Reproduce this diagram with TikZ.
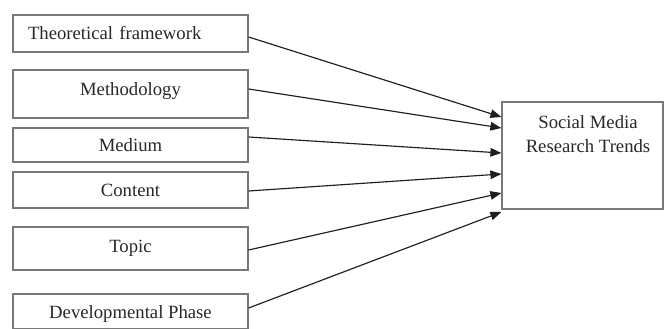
\documentclass[tikz,border=0pt]{standalone}
\usepackage{fontspec}
\setmainfont{Liberation Serif}
\usetikzlibrary{arrows.meta}
\definecolor{boxgray}{RGB}{120,120,120}
\definecolor{arrowcol}{RGB}{30,30,30}
\definecolor{textcol}{RGB}{40,40,40}
\begin{document}
\begin{tikzpicture}[x=1pt,y=-1pt,
  inbox/.style={draw=boxgray, line width=1.2pt, minimum width=235pt, inner sep=0pt,
    font=\fontsize{18.7}{22}\selectfont, text=textcol},
  outbox/.style={draw=boxgray, line width=1.2pt, minimum width=161pt, minimum height=107pt, inner sep=0pt},
  conn/.style={draw=arrowcol, line width=1.15pt, -{Triangle[length=11pt,width=8.5pt]}}]
\useasboundingbox (0,0) rectangle (664,329);
\fill[white] (0,0) rectangle (664,329);
\node[inbox, minimum height=37pt, text width=205pt, align=left, inner xsep=15pt] (t1) at (130.5,33.5) {Theoretical framework};
\node[inbox, minimum height=48pt, text depth=9pt] (t2) at (130.5,94) {Methodology};
\node[inbox, minimum height=34pt] (t3) at (130.5,145) {Medium};
\node[inbox, minimum height=36pt] (t4) at (130.5,190) {Content};
\node[inbox, minimum height=43pt] (t5) at (130.5,248.5) {Topic};
\node[inbox, minimum height=35pt, text height=17pt, text depth=4pt] (t6) at (130.5,311.5) {Developmental Phase};
\node[outbox] (srt) at (582.5,155.5) {};
\node[font=\fontsize{18.7}{24}\selectfont, text=textcol, align=center, inner sep=0pt] (srtt) at (588,134) {Social Media\\Research Trends};
\draw[conn] ([yshift=-3.5pt]t1.east) -- ([yshift=38.5pt]srt.west);
\draw[conn] ([yshift=5pt]t2.east) -- ([yshift=27.5pt]srt.west);
\draw[conn] ([yshift=8pt]t3.east) -- ([yshift=2.5pt]srt.west);
\draw[conn] ([yshift=-1pt]t4.east) -- ([yshift=-18.5pt]srt.west);
\draw[conn] ([yshift=-1.5pt]t5.east) -- ([yshift=-37.5pt]srt.west);
\draw[conn] ([yshift=3.5pt]t6.east) -- ([yshift=-56.5pt]srt.west);
\end{tikzpicture}
\end{document}
